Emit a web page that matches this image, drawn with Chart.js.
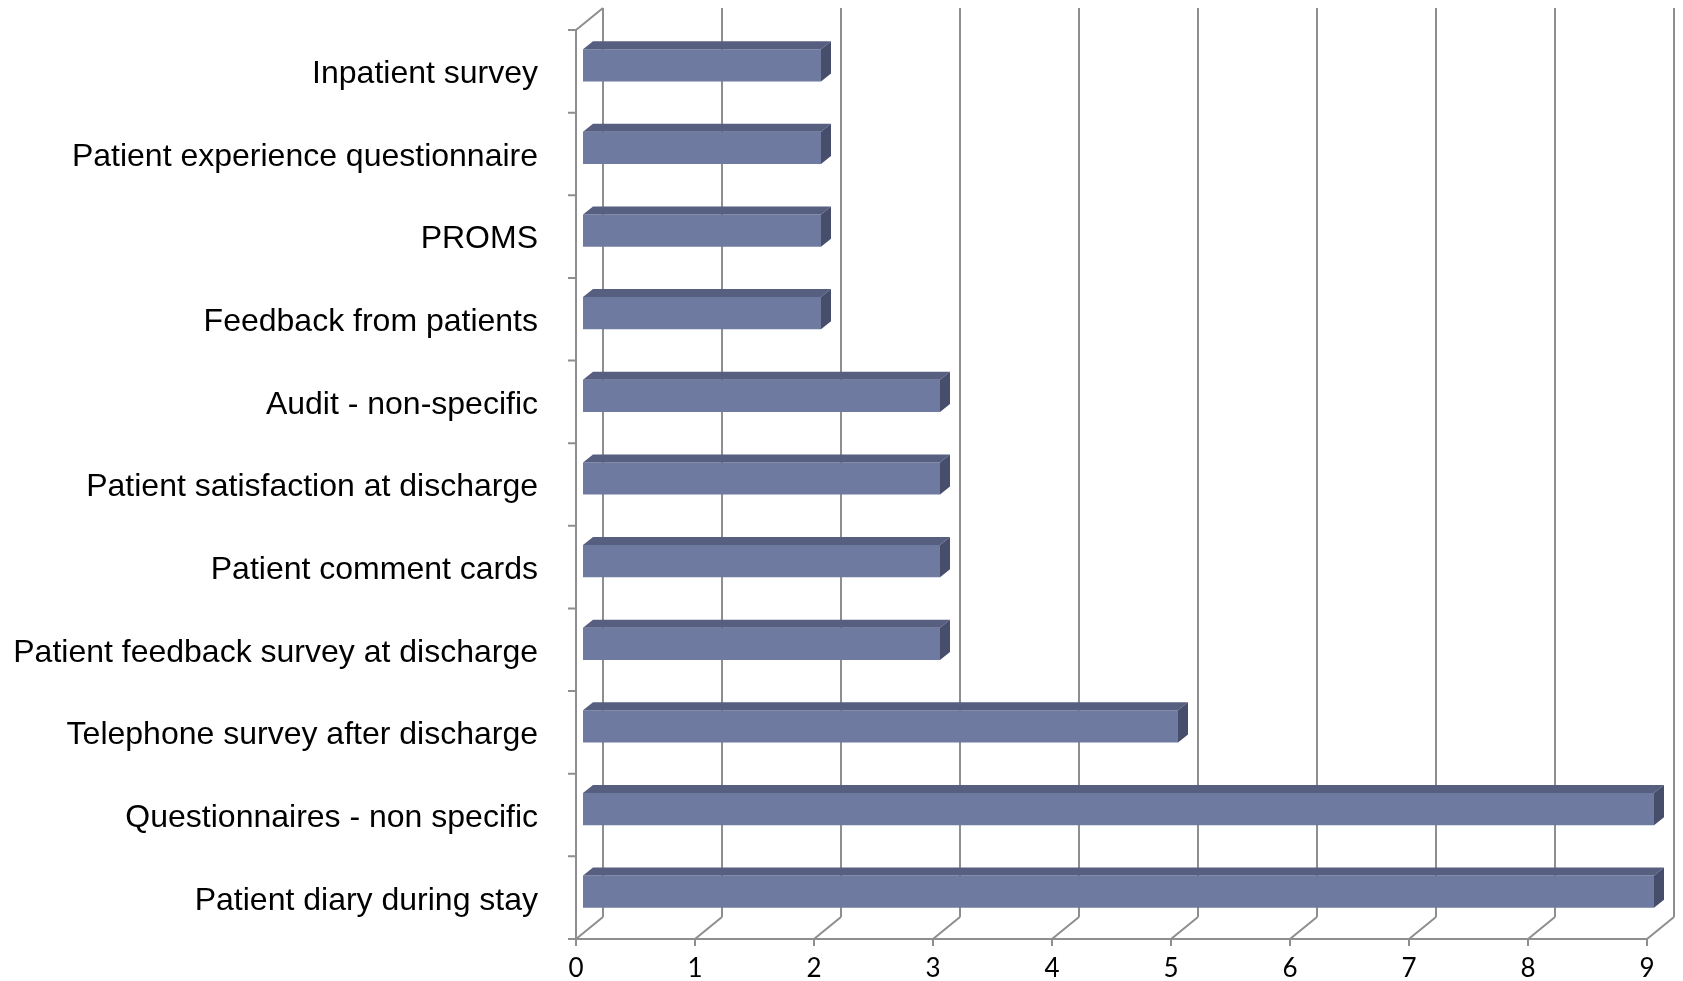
<!DOCTYPE html>
<html>
<head>
<meta charset="utf-8">
<script src="https://cdn.jsdelivr.net/npm/chart.js@4.4.0/dist/chart.umd.min.js"></script>
<style>
  html, body { margin: 0; padding: 0; background: #fff; }
  #wrap { width: 1683px; height: 981px; position: relative; }
</style>
</head>
<body>
<div id="wrap"><canvas id="methodsChart"></canvas></div>
<script>
const categories = [
  'Inpatient survey',
  'Patient experience questionnaire',
  'PROMS',
  'Feedback from patients',
  'Audit - non-specific',
  'Patient satisfaction at discharge',
  'Patient comment cards',
  'Patient feedback survey at discharge',
  'Telephone survey after discharge',
  'Questionnaires - non specific',
  'Patient diary during stay'
];
const counts = [2, 2, 2, 2, 3, 3, 3, 3, 5, 9, 9];
const xTicks = [0, 1, 2, 3, 4, 5, 6, 7, 8, 9];

// offsets of the box planes relative to the plane the bars stand on
const FRONT = { dx: -7, dy: 6 };
const BACK = { dx: 20, dy: -16 };
const BAR_DEPTH = { dx: 10, dy: -8 };

const box3d = {
  id: 'box3d',
  beforeDatasetsDraw(chart) {
    const { ctx, chartArea: a, scales: { x, y } } = chart;
    const fTop = a.top + FRONT.dy, fBot = a.bottom + FRONT.dy;
    const bTop = a.top + BACK.dy, bBot = a.bottom + BACK.dy;
    const x0 = x.getPixelForValue(xTicks[0]);
    const xN = x.getPixelForValue(xTicks[xTicks.length - 1]);

    ctx.save();
    ctx.strokeStyle = '#8e8e8e';
    ctx.lineWidth = 2;
    ctx.beginPath();
    xTicks.forEach(v => {
      const px = x.getPixelForValue(v);
      // back wall gridline
      ctx.moveTo(px + BACK.dx, bTop);
      ctx.lineTo(px + BACK.dx, bBot);
      // floor line
      ctx.moveTo(px + FRONT.dx, fBot);
      ctx.lineTo(px + BACK.dx, bBot);
      // tick mark
      ctx.moveTo(px + FRONT.dx, fBot);
      ctx.lineTo(px + FRONT.dx, fBot + 7);
    });
    // front edge of the floor
    ctx.moveTo(x0 + FRONT.dx - 8, fBot);
    ctx.lineTo(xN + FRONT.dx, fBot);
    // left wall
    ctx.moveTo(x0 + FRONT.dx, fTop);
    ctx.lineTo(x0 + FRONT.dx, fBot);
    ctx.moveTo(x0 + FRONT.dx, fTop);
    ctx.lineTo(x0 + BACK.dx, bTop);
    // category separators
    for (let i = 0; i <= categories.length; i++) {
      const py = y.getPixelForValue(i - 0.5) + FRONT.dy;
      ctx.moveTo(x0 + FRONT.dx - 8, py);
      ctx.lineTo(x0 + FRONT.dx, py);
    }
    ctx.stroke();
    ctx.restore();
  },
  afterDatasetsDraw(chart) {
    const { ctx } = chart;
    const meta = chart.getDatasetMeta(0);
    const { dx, dy } = BAR_DEPTH;
    ctx.save();
    meta.data.forEach(bar => {
      const top = bar.y - bar.height / 2;
      const bot = bar.y + bar.height / 2;
      // top face
      ctx.fillStyle = '#575f80';
      ctx.beginPath();
      ctx.moveTo(bar.base, top);
      ctx.lineTo(bar.x, top);
      ctx.lineTo(bar.x + dx, top + dy);
      ctx.lineTo(bar.base + dx, top + dy);
      ctx.closePath();
      ctx.fill();
      // end face
      ctx.fillStyle = '#474e6b';
      ctx.beginPath();
      ctx.moveTo(bar.x, top);
      ctx.lineTo(bar.x + dx, top + dy);
      ctx.lineTo(bar.x + dx, bot + dy);
      ctx.lineTo(bar.x, bot);
      ctx.closePath();
      ctx.fill();
    });
    ctx.restore();
  }
};

new Chart(document.getElementById('methodsChart'), {
  type: 'bar',
  data: {
    labels: categories,
    datasets: [{
      data: counts,
      backgroundColor: '#6f7aa0',
      borderWidth: 0,
      categoryPercentage: 1,
      barPercentage: 0.39
    }]
  },
  options: {
    indexAxis: 'y',
    responsive: true,
    maintainAspectRatio: false,
    animation: false,
    layout: { padding: { left: 13, right: 29, top: 24, bottom: 0 } },
    plugins: {
      legend: { display: false },
      tooltip: { enabled: false }
    },
    scales: {
      x: {
        min: 0,
        max: 9,
        afterFit(scale) {
          scale.height = 48;
          scale.paddingLeft = 0;
          scale.paddingRight = 0;
        },
        grid: { display: false, drawTicks: false },
        border: { display: false },
        ticks: {
          stepSize: 1,
          padding: 20,
          labelOffset: FRONT.dx,
          color: '#000',
          font: { family: 'Lato', size: 26 }
        }
      },
      y: {
        afterFit(scale) {
          scale.width = 570;
          scale.paddingTop = 0;
          scale.paddingBottom = 0;
        },
        grid: { display: false, drawTicks: false },
        border: { display: false },
        ticks: {
          padding: 45,
          labelOffset: 9,
          color: '#000',
          font: { family: '"Liberation Sans", Arial, sans-serif', size: 32 }
        }
      }
    }
  },
  plugins: [box3d]
});
</script>
</body>
</html>
